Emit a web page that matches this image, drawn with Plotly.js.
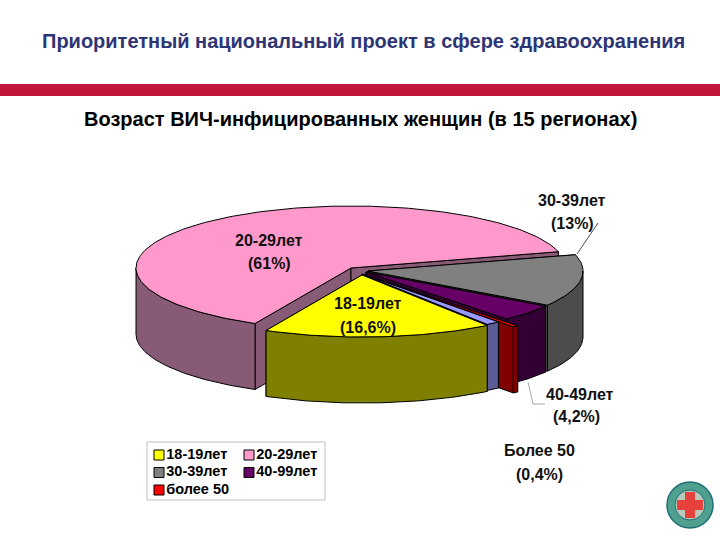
<!DOCTYPE html>
<html><head><meta charset="utf-8">
<script src="https://cdn.plot.ly/plotly-3.0.1.min.js"></script>
<style>html,body{margin:0;padding:0;background:#fff}#c{width:720px;height:540px}</style>
</head><body><div id="c"></div>
<script>
// Data (clockwise on screen, starting from the 20-29 slice)
const sliceNames = ["20-29лет","30-39лет","40-49лет","более 50","прочие","18-19лет"];
const sliceValues = [61, 13, 4.2, 0.4, 1.0, 16.6];
const sliceLabels = ["20-29лет","30-39лет","40-49лет","Более 50",null,"18-19лет"];
const slicePercents = ["(61%)","(13%)","(4,2%)","(0,4%)",null,"(16,6%)"];
const topColors = ["#FF99CC","#808080","#660066","#FF0000","#9999FF","#FFFF00"];
const wallColors = ["#875A75","#4C4C4C","#330033","#800000","#5C5C96","#808000"];
const legendNames = ["18-19лет","20-29лет","30-39лет","40-99лет","более 50"];
const legendColors = ["#FFFF00","#FF99CC","#808080","#660066","#FF0000"];
const apexX = [351,368,366,377,362,362];
const apexY = [268,271,272,279,274,275];
const labelX = [269,572,580,539,null,368];
const labelY = [240,200,394,450,null,303];
const percentX = [269,572,576,539,null,368];
const percentY = [263,223,416,474,null,327];

const RX = 215, RY = 62, DEPTH = 66, START = 116.5;
const FONT = "Liberation Sans, Arial, sans-serif";
const total = sliceValues.reduce((a,b)=>a+b,0);
const traces = [];
function poly(xs, ys, fill){
  traces.push({type:"scatter",mode:"lines",x:xs.concat(xs[0]),y:ys.concat(ys[0]),fill:"toself",
    fillcolor:fill,line:{color:"#000",width:1},hoverinfo:"skip",showlegend:false});
}
function rim(i,t){const a=t*Math.PI/180;return [apexX[i]+RX*Math.cos(a),apexY[i]+RY*Math.sin(a)];}
let cum = START;
sliceValues.forEach((v,i)=>{
  const t1 = cum, t2 = cum + v/total*360; cum = t2;
  // radial side faces
  [t1,t2].forEach(t=>{
    const p = rim(i,t);
    poly([apexX[i],p[0],p[0],apexX[i]],[apexY[i],p[1],p[1]+DEPTH,apexY[i]+DEPTH],wallColors[i]);
  });
  // outer wall: only the part of the rim that faces the viewer
  for(const k of [0,360]){
    const a=Math.max(t1,k), b=Math.min(t2,k+180);
    if(b>a){
      const xs=[],ys=[],bx=[],by=[];
      for(let t=a;;t=Math.min(t+1,b)){
        const p=rim(i,t);xs.push(p[0]);ys.push(p[1]);bx.unshift(p[0]);by.unshift(p[1]+DEPTH);
        if(t>=b)break;
      }
      poly(xs.concat(bx),ys.concat(by),wallColors[i]);
    }
  }
  // top
  const xs=[apexX[i]],ys=[apexY[i]];
  for(let t=t1;;t=Math.min(t+1,t2)){
    const p=rim(i,t);xs.push(p[0]);ys.push(p[1]);
    if(t>=t2)break;
  }
  poly(xs,ys,topColors[i]);
});

// Legend entries
const legX0=159, legY0=455, legDX=90, legDY=17.5;
legendNames.forEach((n,i)=>{
  traces.push({type:"scatter",mode:"markers+text",name:n,
    x:[legX0+(i%2)*legDX],y:[legY0+Math.floor(i/2)*legDY],text:["<b>"+n+"</b>"],textposition:"middle right",
    textfont:{family:FONT,size:14.5,color:"#000"},
    marker:{symbol:"square",size:10,color:legendColors[i],line:{color:"#000",width:1}},
    hoverinfo:"skip",showlegend:false});
});

const annotations=[];
function txt(x,y,t,size,color,w){
  annotations.push({xref:"x",yref:"y",x,y,text:w?"<b>"+t+"</b>":t,showarrow:false,
    xanchor:"center",yanchor:"middle",font:{family:FONT,size,color}});
}
sliceLabels.forEach((l,i)=>{
  if(l===null)return;
  txt(labelX[i],labelY[i],l,16,"#111",true);
  txt(percentX[i],percentY[i],slicePercents[i],16,"#111",true);
});
txt(363,41,"Приоритетный национальный проект в сфере здравоохранения",20,"#2E3575",true);
txt(360,119,"Возраст ВИЧ-инфицированных женщин (в 15 регионах)",20,"#000",true);

const shapes=[
 {type:"rect",xref:"x",yref:"y",x0:0,x1:720,y0:84,y1:96,fillcolor:"#C0163C",line:{width:0},layer:"below"},
 {type:"rect",xref:"x",yref:"y",x0:147,x1:325,y0:442,y1:500,fillcolor:"#fff",line:{color:"#BFBFBF",width:1},layer:"below"},
 {type:"line",xref:"x",yref:"y",x0:577,y0:254,x1:598,y1:223,line:{color:"#000",width:0.7}},
 {type:"path",xref:"x",yref:"y",path:"M528,382 L533,404 L545,404",line:{color:"#AAAAAA",width:1}},
 {type:"circle",xref:"x",yref:"y",x0:667,x1:713,y0:482,y1:528,fillcolor:"#4FA08E",line:{color:"#1F6F78",width:1.5}},
 {type:"circle",xref:"x",yref:"y",x0:675,x1:705,y0:490,y1:520,fillcolor:"#B7C9B8",line:{color:"#1F6F78",width:1}},
 {type:"rect",xref:"x",yref:"y",x0:677,x1:703,y0:500,y1:510,fillcolor:"#E8403A",line:{width:0}},
 {type:"rect",xref:"x",yref:"y",x0:685,x1:695,y0:492,y1:518,fillcolor:"#E8403A",line:{width:0}}
];

Plotly.newPlot("c",traces,{
  width:720,height:540,margin:{l:0,r:0,t:0,b:0},paper_bgcolor:"#fff",plot_bgcolor:"#fff",
  xaxis:{range:[0,720],visible:false,fixedrange:true},
  yaxis:{range:[540,0],visible:false,fixedrange:true},
  showlegend:false,annotations,shapes
},{displayModeBar:false,staticPlot:true});
</script></body></html>
